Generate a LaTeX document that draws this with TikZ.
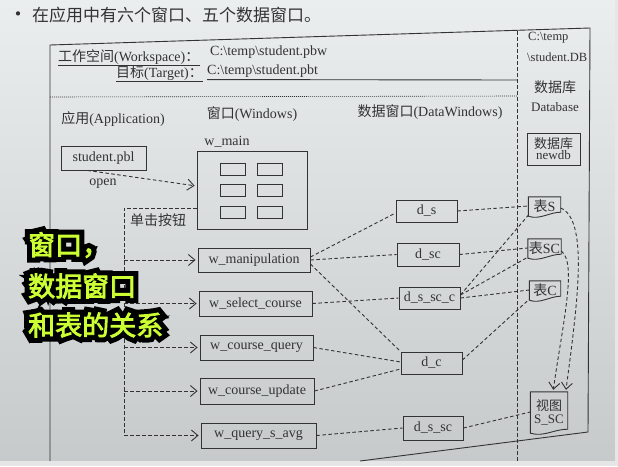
\documentclass[tikz,border=0pt]{standalone}
\usepackage{fontspec}
\setmainfont{Liberation Serif}
\newfontfamily\cjk{Noto Sans CJK SC}
\newfontfamily\cjkout[FakeBold=40]{Noto Sans CJK SC}
\newfontfamily\cjkfill[FakeBold=3]{Noto Sans CJK SC}
\usetikzlibrary{arrows.meta,calc}
\definecolor{ink}{HTML}{333333}
\definecolor{paperTop}{HTML}{EAEEEE}
\definecolor{paperBot}{HTML}{C6CACA}
\definecolor{stripgray}{HTML}{E6E6E6}
\definecolor{hl}{HTML}{CCFF33}
\newcommand\zt[1]{{\cjk #1}}
\newcommand\docout[1]{%
  \draw[ink, line width=0.9pt] (#1.north west) -- (#1.north east) -- ([yshift=3pt]#1.south east)
    .. controls ($(#1.south)+(5,-3)$) and ($(#1.south)+(-5,5)$) .. ([yshift=-1pt]#1.south west) -- cycle;}
\tikzset{
  lbl/.style={text=ink, font=\fontsize{14}{16}\selectfont, inner sep=0pt},
  box/.style={draw=ink, line width=0.9pt, text=ink, font=\fontsize{14}{16}\selectfont, inner sep=0pt},
  small/.style={draw=ink, line width=0.9pt, inner sep=0pt, minimum width=25pt, minimum height=12pt},
  doc/.style={text=ink, font=\fontsize{14}{16}\selectfont, inner sep=0pt, align=center},
  dl/.style={draw=ink, line width=0.9pt, dash pattern=on 3.5pt off 2.5pt},
  arr/.style={dl, -{Straight Barb[length=6.5pt,width=11pt,line width=0.9pt]}, shorten >=2pt},
  ovout/.style={anchor=west, inner sep=0pt, text=black, font=\cjkout\fontsize{27}{30}\selectfont},
  ovfill/.style={anchor=west, inner sep=0pt, text=hl, font=\cjkfill\fontsize{27}{30}\selectfont}
}
\begin{document}
\begin{tikzpicture}[x=1pt,y=-1pt]
\useasboundingbox (0,0) rectangle (618,466);
% paper
\fill[top color=paperTop, bottom color=paperBot] (0,0) rectangle (615,461);
\fill[stripgray] (0,461) rectangle (618,466);
\fill[stripgray] (615,0) rectangle (618,466);

\node[anchor=west, inner sep=0pt, text=ink, font=\cjk\fontsize{17}{20}\selectfont] (intro) at (8,15) {{\fontsize{20}{20}\selectfont\textbullet}\ 在应用中有六个窗口、五个数据窗口。};

% frame
\coordinate (fbl) at (50,461);
\coordinate (ftl) at (50,45);
\coordinate (ftr) at (590,28);
\coordinate (fbr) at (588,432);
\coordinate (fbx) at (360,461);
\draw[ink, line width=0.9pt] (fbl) -- (ftl) -- (ftr) -- (fbr) -- (fbx);
\coordinate (sept) at (517,31);
\coordinate (sepb) at (517,461);
\draw[dl, line width=0.8pt] (sept) -- (sepb);

% header
\node[lbl, anchor=west] (ws) at (58,57) {\zt{工作空间}(Workspace)\zt{：}};
\node[lbl, anchor=west] (wsp) at (210,52) {C:\textbackslash temp\textbackslash student.pbw};
\node[lbl, anchor=east] (tg) at (203,73) {\zt{目标}(Target)\zt{：}};
\node[lbl, anchor=west] (tgp) at (207,71) {C:\textbackslash temp\textbackslash student.pbt};
\draw[ink, line width=0.9pt] ([yshift=-1pt]ws.south west) -- ([yshift=-1pt]ws.south east);
\draw[ink, line width=0.9pt] ([yshift=-1pt]tg.south west) -- ([yshift=-1pt]tg.south east);
\coordinate (sepm) at (517,80);
\draw[ink, line width=0.9pt] ([yshift=-2pt]tgp.south west) -- (sepm);
\coordinate (dotl) at (50,97);
\coordinate (dotr) at (517,96);
\draw[ink, line width=0.6pt, dash pattern=on 1pt off 1pt] (dotl) -- (dotr);

% column titles
\node[lbl] (app) at (113,119) {\zt{应用}(Application)};
\node[lbl] (win) at (252,114) {\zt{窗口}(Windows)};
\node[lbl] (dw) at (430,112) {\zt{数据窗口}(DataWindows)};
\node[lbl, anchor=west, font=\fontsize{12.5}{14}\selectfont] (dbp1) at (528,38) {C:\textbackslash temp};
\node[lbl, anchor=west, font=\fontsize{12.5}{14}\selectfont] (dbp2) at (527,57) {\textbackslash student.DB};
\node[lbl, font=\cjk\fontsize{14}{16}\selectfont] (dbt) at (555,87) {数据库};
\node[lbl, font=\fontsize{13}{15}\selectfont] (dbe) at (555,107) {Database};
\node[box, minimum width=53pt, minimum height=32pt, align=center, font=\fontsize{13}{13}\selectfont] (newdb) at (553.5,149) {\zt{数据库}\\[-2pt]newdb};

% application
\node[box, minimum width=85pt, minimum height=24pt] (pbl) at (103.5,158) {student.pbl};
\node[lbl] (openl) at (103,184) {open};

% w_main
\node[box, minimum width=110pt, minimum height=78pt] (wmain) at (252,190) {};
\node[lbl] (wmainl) at (227,142) {w\_main};
\node[small] (r11) at (232.5,169) {};
\node[small] (r12) at (269.5,169) {};
\node[small] (r21) at (232.5,190) {};
\node[small] (r22) at (269.5,190) {};
\node[small] (r31) at (232.5,212) {};
\node[small] (r32) at (269.5,212) {};
\draw[arr] ([xshift=-16pt]pbl.south) -- ([yshift=4pt]wmain.west);

% windows
\node[box, minimum width=112pt, minimum height=24pt] (wmanip) at (254,260) {w\_manipulation};
\node[box, minimum width=113pt, minimum height=25pt] (wsel) at (255.5,303.5) {w\_select\_course};
\node[box, minimum width=113pt, minimum height=25pt] (wcq) at (256.5,347.5) {w\_course\_query};
\node[box, minimum width=114pt, minimum height=26pt] (wcu) at (257,391) {w\_course\_update};
\node[box, minimum width=115pt, minimum height=25pt] (wqa) at (258.5,435.5) {w\_query\_s\_avg};
\node[lbl, font=\cjk\fontsize{14}{16}\selectfont] (click) at (158,220) {单击按钮};

\coordinate (bus) at (124,208);
\draw[dl] ([yshift=-18pt]wmain.west) -- (bus) -- (bus |- wqa.west);
\draw[arr] (bus |- wmanip.west) -- (wmanip.west);
\draw[arr] (bus |- wsel.west) -- (wsel.west);
\draw[arr] (bus |- wcq.west) -- (wcq.west);
\draw[arr] (bus |- wcu.west) -- (wcu.west);
\draw[arr] (bus |- wqa.west) -- (wqa.west);

% datawindows
\node[box, minimum width=61pt, minimum height=22pt] (ds) at (426.5,211) {d\_s};
\node[box, minimum width=62pt, minimum height=23pt] (dsc) at (428,254.5) {d\_sc};
\node[box, minimum width=61pt, minimum height=22pt] (dssc) at (429.5,298) {d\_s\_sc\_c};
\node[box, minimum width=61pt, minimum height=22pt] (dc) at (431.5,363) {d\_c};
\node[box, minimum width=60pt, minimum height=24pt] (dssc2) at (433,428) {d\_s\_sc};

% tables
\node[doc, minimum width=32pt, minimum height=18pt] (tS) at (544.5,206) {\zt{表}S};
\node[doc, minimum width=33pt, minimum height=18pt] (tSC) at (544.5,248) {\zt{表}SC};
\node[doc, minimum width=31pt, minimum height=18pt] (tC) at (545,290) {\zt{表}C};
\node[doc, minimum width=37pt, minimum height=40pt, font=\fontsize{13}{13}\selectfont] (view) at (549,412) {\zt{视图}\\S\_SC};
\docout{tS}
\docout{tSC}
\docout{tC}
\docout{view}

% connectors
\draw[dl] ([yshift=3pt]wmanip.east) -- ([yshift=-2pt]ds.west);
\draw[dl] (wmanip.east) -- (dsc.west);
\draw[dl] ([yshift=-4pt]wmanip.east) -- (dc.north west);
\draw[dl] (wsel.east) -- (dssc.west);
\draw[dl] (wcq.east) -- ([yshift=1pt]dc.west);
\draw[dl] (wcu.east) -- ([yshift=-6pt]dc.west);
\draw[dl] (wqa.east) -- (dssc2.west);
\draw[dl] (ds.east) -- (tS.west);
\draw[dl] (dsc.east) -- (tSC.west);
\draw[dl] ([yshift=3pt]dssc.east) -- (tS.south west);
\draw[dl] ([yshift=3pt]dssc.east) -- (tSC.south west);
\draw[dl] (dssc.east) -- (tC.west);
\draw[dl] ([yshift=3pt]dc.east) -- (tC.south west);
\draw[dl] (dssc2.east) -- (view.west);
\draw[arr] ([yshift=-2pt]tS.east) .. controls +(28,12) and +(12,-90) .. ([xshift=-2pt]view.north east);
\draw[arr] ([yshift=-3pt]tSC.east) .. controls +(16,12) and +(10,-70) .. ([xshift=4pt]view.north);

% overlay caption
\node[ovout] (c1o) at (28,245) {窗口，};
\node[ovfill] (c1) at (28,245) {窗口，};
\node[ovout] (c2o) at (28,286) {数据窗口};
\node[ovfill] (c2) at (28,286) {数据窗口};
\node[ovout] (c3o) at (28,325) {和表的关系};
\node[ovfill] (c3) at (28,325) {和表的关系};
\end{tikzpicture}
\end{document}
